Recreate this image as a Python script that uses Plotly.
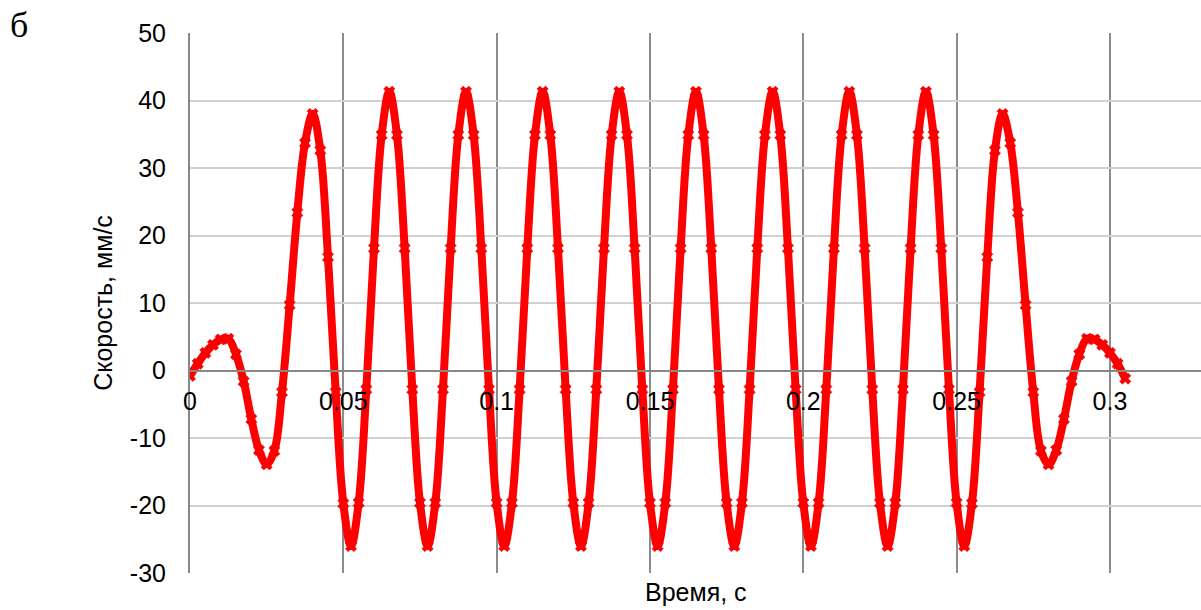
import plotly.graph_objects as go

# Sampling times, s (step 2.5 ms)
time_s = [round(i * 0.0025, 4) for i in range(123)]

# Velocity, mm/s
velocity = [
    -0.8, 1.0, 2.6, 3.8, 4.6, 4.7, 2.4, -1.6, -7.2, -11.8,
    -13.9, -11.9, -3.2, 9.7, 23.4, 33.7, 38.0, 32.6, 16.8, -3.2,
    -19.7,
    -26.0, -19.6, -2.8, 18.1, 34.9, 41.3, 34.9, 18.1, -2.8, -19.6,
    -26.0, -19.6, -2.8, 18.1, 34.9, 41.3, 34.9, 18.1, -2.8, -19.6,
    -26.0, -19.6, -2.8, 18.1, 34.9, 41.3, 34.9, 18.1, -2.8, -19.6,
    -26.0, -19.6, -2.8, 18.1, 34.9, 41.3, 34.9, 18.1, -2.8, -19.6,
    -26.0, -19.6, -2.8, 18.1, 34.9, 41.3, 34.9, 18.1, -2.8, -19.6,
    -26.0, -19.6, -2.8, 18.1, 34.9, 41.3, 34.9, 18.1, -2.8, -19.6,
    -26.0, -19.6, -2.8, 18.1, 34.9, 41.3, 34.9, 18.1, -2.8, -19.6,
    -26.0, -19.6, -2.8, 18.1, 34.9, 41.3, 34.9, 18.1, -2.8, -19.6,
    -26.0,
    -19.7, -3.2, 16.8, 32.6, 38.0, 33.7, 23.4, 9.7, -3.2, -11.9,
    -13.9, -11.8, -7.2, -1.6, 2.4, 4.7, 4.6, 3.8, 2.6, 1.0,
    -1.2,
]

x_ticks = [0, 0.05, 0.1, 0.15, 0.2, 0.25, 0.3]
x_tick_labels = ["0", "0.05", "0.1", "0.15", "0.2", "0.25", "0.3"]
y_ticks = [-30, -20, -10, 0, 10, 20, 30, 40, 50]
y_tick_labels = ["-30", "-20", "-10", "0", "10", "20", "30", "40", "50"]

X_RANGE = [0, 0.3297]
Y_RANGE = [-30, 50]

font_main = "Liberation Sans, Arial, sans-serif"
FS = 25

fig = go.Figure()
fig.add_trace(go.Scatter(
    x=time_s,
    y=velocity,
    mode="lines+markers",
    line=dict(color="#FF0000", width=8, shape="spline", smoothing=1.0),
    marker=dict(symbol="x", size=10, color="#FF0000",
                line=dict(color="#E00000", width=0.5)),
    showlegend=False,
))

# x axis crosses the y axis at zero velocity
zero_pos = (0 - Y_RANGE[0]) / (Y_RANGE[1] - Y_RANGE[0])

fig.update_layout(
    width=1201,
    height=610,
    margin=dict(l=190, r=0, t=33, b=37),
    paper_bgcolor="white",
    plot_bgcolor="white",
    font=dict(family=font_main, size=FS, color="#000000"),
    xaxis=dict(
        range=X_RANGE,
        tickvals=x_ticks,
        ticktext=x_tick_labels,
        anchor="free",
        position=zero_pos,
        showline=True,
        linecolor="#878787",
        linewidth=2,
        showgrid=True,
        gridcolor="#8C8C8C",
        gridwidth=2,
        zeroline=False,
        ticks="",
        ticklabelstandoff=8,
        tickfont=dict(family=font_main, size=FS, color="#000000"),
    ),
    yaxis=dict(
        range=Y_RANGE,
        tickvals=y_ticks,
        ticktext=y_tick_labels,
        showline=True,
        linecolor="#878787",
        linewidth=2,
        showgrid=True,
        gridcolor="#D0D0D0",
        gridwidth=1.5,
        zeroline=True,
        zerolinecolor="#878787",
        zerolinewidth=2,
        ticks="",
        ticklabelstandoff=17,
        tickfont=dict(family=font_main, size=FS, color="#000000"),
        title=dict(text="Скорость, мм/с", standoff=10,
                   font=dict(family=font_main, size=FS, color="#000000")),
    ),
    annotations=[
        dict(text="Время, с", xref="paper", yref="paper", x=0.5, y=0,
             xanchor="center", yanchor="top", yshift=-3, showarrow=False,
             font=dict(family=font_main, size=FS, color="#000000")),
        dict(text="б", xref="paper", yref="paper", x=-182 / 1011, y=1,
             xanchor="left", yanchor="top", yshift=30, showarrow=False,
             font=dict(family="Liberation Serif, Times New Roman, serif",
                       size=36, color="#000000")),
    ],
)

fig.write_html("out.html")
